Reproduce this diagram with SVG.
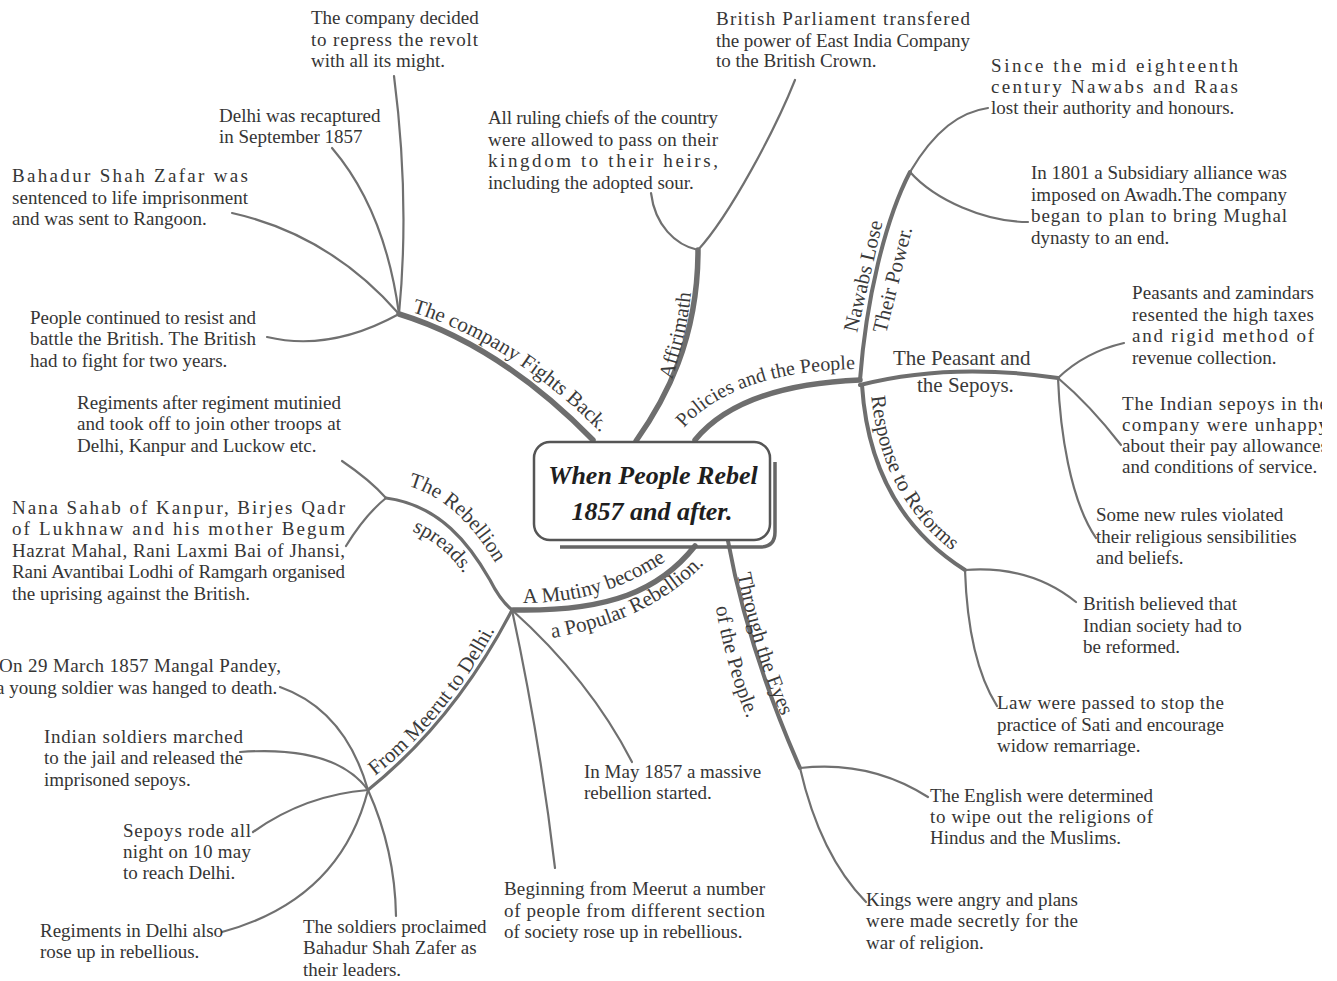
<svg xmlns="http://www.w3.org/2000/svg" width="1337" height="981" viewBox="0 0 1337 981">
<style>
.t{font-family:"Liberation Serif","Times New Roman",serif;font-size:19px;fill:#353535}
.lbl{font-family:"Liberation Serif","Times New Roman",serif;font-size:21px;fill:#3a3a3a}
.title{font-family:"Liberation Serif","Times New Roman",serif;font-size:26px;font-weight:bold;font-style:italic;fill:#1e1e1e}
.br{fill:none;stroke:#6e6e6e;stroke-linecap:round}
.b1{stroke-width:5.5}
.b2{stroke-width:4}
.b3{stroke-width:3.2}
.lf{fill:none;stroke:#707070;stroke-width:2.2;stroke-linecap:round}
</style>
<defs>
<clipPath id="clipR"><rect x="0" y="0" width="1322" height="981"/></clipPath>
<path id="pCompany" d="M404,310 Q506,338 600,432"/>
<path id="pAff" d="M672,380 C681,350 690,320 693,268"/>
<path id="pPol" d="M684,428 Q734,371 858,369"/>
<path id="pResp" d="M871,392 Q880,505 968,562"/>
<path id="pMut1" d="M523,603 C560,603 612,598 670,558"/>
<path id="pMut2" d="M552,638 C600,630 660,610 704,564"/>
<path id="pReb1" d="M408,486 C445,496 475,526 502,574"/>
<path id="pReb2" d="M412,531 C435,541 455,557 470,584"/>
<path id="pMeer" d="M375,776 Q452,716 502,616"/>
<path id="pEyes1" d="M737,572 Q754,660 793,742"/>
<path id="pEyes2" d="M715,603 Q728,680 756,738"/>
</defs>

<g id="connectors">
  <!-- main branches -->
  <path class="br b1" d="M399,314 Q500,345 593,440"/>
  <path class="br b1" d="M636,441 C665,400 698,340 698,250"/>
  <path class="br b1" d="M695,440 Q740,385 860,380"/>
  <path class="br b1" d="M695,546 C660,590 610,612 513,610"/>
  <path class="br b2" d="M728,541 Q748,650 800,768"/>
  <!-- secondary branches -->
  <path class="br b2" d="M860,380 C866,300 885,220 910,172"/>
  <path class="br b2" d="M860,385 Q950,362 1058,378"/>
  <path class="br b2" d="M862,385 Q870,510 965,570"/>
  <path class="br b3" d="M512,610 Q500,600 490,580 C470,545 440,505 386,498"/>
  <path class="br b3" d="M512,610 Q455,720 368,790"/>
  <!-- leaf connectors -->
  <path class="lf" d="M394,76 Q410,200 399,314"/>
  <path class="lf" d="M332,148 Q385,210 399,314"/>
  <path class="lf" d="M232,213 Q330,235 399,314"/>
  <path class="lf" d="M267,337 Q330,352 399,314"/>
  <path class="lf" d="M651,193 C655,225 675,245 698,250"/>
  <path class="lf" d="M698,250 C730,215 775,130 795,80"/>
  <path class="lf" d="M910,172 C935,130 960,112 988,108"/>
  <path class="lf" d="M910,172 C935,200 985,222 1028,222"/>
  <path class="lf" d="M1058,378 Q1085,352 1124,343"/>
  <path class="lf" d="M1058,378 Q1090,405 1121,445"/>
  <path class="lf" d="M1058,378 C1060,430 1070,500 1096,538"/>
  <path class="lf" d="M965,570 Q1030,565 1076,602"/>
  <path class="lf" d="M965,570 Q968,660 997,706"/>
  <path class="lf" d="M386,498 Q370,480 342,461"/>
  <path class="lf" d="M386,498 Q365,515 346,546"/>
  <path class="lf" d="M280,687 Q345,710 368,790"/>
  <path class="lf" d="M368,790 Q395,850 396,916"/>
  <path class="lf" d="M240,752 Q335,745 368,790"/>
  <path class="lf" d="M253,832 Q305,795 368,790"/>
  <path class="lf" d="M222,932 Q340,900 368,790"/>
  <path class="lf" d="M512,610 Q590,680 632,762"/>
  <path class="lf" d="M512,610 Q540,740 555,868"/>
  <path class="lf" d="M800,768 Q870,760 928,797"/>
  <path class="lf" d="M800,768 Q820,855 866,902"/>
</g>

<g id="branch-labels">
  <text class="lbl"><textPath href="#pCompany" startOffset="8">The company Fights Back.</textPath></text>
  <text class="lbl"><textPath href="#pAff">Affirimath</textPath></text>
  <text class="lbl" style="font-size:20px"><textPath href="#pPol">Policies and the People</textPath></text>
  <text class="lbl" transform="translate(857,333) rotate(-77)">Nawabs Lose</text>
  <text class="lbl" transform="translate(886,334) rotate(-76)">Their Power.</text>
  <text class="lbl" x="893" y="365">The Peasant and</text>
  <text class="lbl" x="917" y="392">the Sepoys.</text>
  <text class="lbl"><textPath href="#pResp" startOffset="4">Response to Reforms</textPath></text>
  <text class="lbl"><textPath href="#pMut1">A Mutiny become</textPath></text>
  <text class="lbl"><textPath href="#pMut2">a Popular Rebellion.</textPath></text>
  <text class="lbl"><textPath href="#pReb1">The Rebellion</textPath></text>
  <text class="lbl"><textPath href="#pReb2">spreads.</textPath></text>
  <text class="lbl"><textPath href="#pMeer">From Meerut to Delhi.</textPath></text>
  <text class="lbl"><textPath href="#pEyes1" startOffset="2">Through the Eyes</textPath></text>
  <text class="lbl"><textPath href="#pEyes2" startOffset="4">of the People.</textPath></text>
</g>

<g id="center">
  <path d="M560,547 L760,547 Q775,547 775,532 L775,462" fill="none" stroke="#666" stroke-width="3.5"/>
  <rect x="534" y="442" width="236" height="98" rx="16" fill="#fff" stroke="#555" stroke-width="2.5"/>
  <text class="title" x="653" y="484" text-anchor="middle">When People Rebel</text>
  <text class="title" x="652" y="520" text-anchor="middle">1857 and after.</text>
</g>

<g id="n-company-decided">
  <text class="t" x="311" y="24">The company decided</text>
  <text class="t" x="311" y="46" textLength="167" lengthAdjust="spacing">to repress the revolt</text>
  <text class="t" x="311" y="67">with all its might.</text>
</g>
<g id="n-delhi-recaptured">
  <text class="t" x="219" y="122">Delhi was recaptured</text>
  <text class="t" x="219" y="143">in September 1857</text>
</g>
<g id="n-bahadur">
  <text class="t" x="12" y="182" textLength="236" lengthAdjust="spacing">Bahadur Shah Zafar was</text>
  <text class="t" x="12" y="204" textLength="236" lengthAdjust="spacing">sentenced to life imprisonment</text>
  <text class="t" x="12" y="225">and was sent to Rangoon.</text>
</g>
<g id="n-people-continued">
  <text class="t" x="30" y="324" textLength="226" lengthAdjust="spacing">People continued to resist and</text>
  <text class="t" x="30" y="345" textLength="226" lengthAdjust="spacing">battle the British. The British</text>
  <text class="t" x="30" y="367">had to fight for two years.</text>
</g>
<g id="n-ruling-chiefs">
  <text class="t" x="488" y="124" textLength="230" lengthAdjust="spacing">All ruling chiefs of the country</text>
  <text class="t" x="488" y="146" textLength="230" lengthAdjust="spacing">were allowed to pass on their</text>
  <text class="t" x="488" y="167" textLength="230" lengthAdjust="spacing">kingdom to their heirs,</text>
  <text class="t" x="488" y="189">including the adopted sour.</text>
</g>
<g id="n-parliament">
  <text class="t" x="716" y="25" textLength="254" lengthAdjust="spacing">British Parliament transfered</text>
  <text class="t" x="716" y="47" textLength="254" lengthAdjust="spacing">the power of East India Company</text>
  <text class="t" x="716" y="67">to the British Crown.</text>
</g>
<g id="n-since-mid">
  <text class="t" x="991" y="72" textLength="247" lengthAdjust="spacing">Since the mid eighteenth</text>
  <text class="t" x="991" y="93" textLength="247" lengthAdjust="spacing">century Nawabs and Raas</text>
  <text class="t" x="991" y="114">lost their authority and honours.</text>
</g>
<g id="n-1801">
  <text class="t" x="1031" y="179" textLength="256" lengthAdjust="spacing">In 1801 a Subsidiary alliance was</text>
  <text class="t" x="1031" y="201" textLength="256" lengthAdjust="spacing">imposed on Awadh.The company</text>
  <text class="t" x="1031" y="222" textLength="256" lengthAdjust="spacing">began to plan to bring Mughal</text>
  <text class="t" x="1031" y="244">dynasty to an end.</text>
</g>
<g id="n-peasants">
  <text class="t" x="1132" y="299" textLength="182" lengthAdjust="spacing">Peasants and zamindars</text>
  <text class="t" x="1132" y="321" textLength="182" lengthAdjust="spacing">resented the high taxes</text>
  <text class="t" x="1132" y="342" textLength="182" lengthAdjust="spacing">and rigid method of</text>
  <text class="t" x="1132" y="364">revenue collection.</text>
</g>
<g id="n-sepoys-unhappy" clip-path="url(#clipR)">
  <text class="t" x="1122" y="410" textLength="206" lengthAdjust="spacing">The Indian sepoys in the</text>
  <text class="t" x="1122" y="431" textLength="206" lengthAdjust="spacing">company were unhappy</text>
  <text class="t" x="1122" y="452" textLength="206" lengthAdjust="spacing">about their pay allowances</text>
  <text class="t" x="1122" y="473">and conditions of service.</text>
</g>
<g id="n-new-rules">
  <text class="t" x="1096" y="521">Some new rules violated</text>
  <text class="t" x="1096" y="543">their religious sensibilities</text>
  <text class="t" x="1096" y="564">and beliefs.</text>
</g>
<g id="n-british-believed">
  <text class="t" x="1083" y="610">British believed that</text>
  <text class="t" x="1083" y="632">Indian society had to</text>
  <text class="t" x="1083" y="653">be reformed.</text>
</g>
<g id="n-law">
  <text class="t" x="997" y="709" textLength="227" lengthAdjust="spacing">Law were passed to stop the</text>
  <text class="t" x="997" y="731" textLength="227" lengthAdjust="spacing">practice of Sati and encourage</text>
  <text class="t" x="997" y="752">widow remarriage.</text>
</g>
<g id="n-english">
  <text class="t" x="930" y="802" textLength="223" lengthAdjust="spacing">The English were determined</text>
  <text class="t" x="930" y="823" textLength="223" lengthAdjust="spacing">to wipe out the religions of</text>
  <text class="t" x="930" y="844">Hindus and the Muslims.</text>
</g>
<g id="n-kings">
  <text class="t" x="866" y="906" textLength="212" lengthAdjust="spacing">Kings were angry and plans</text>
  <text class="t" x="866" y="927" textLength="212" lengthAdjust="spacing">were made secretly for the</text>
  <text class="t" x="866" y="949">war of religion.</text>
</g>
<g id="n-beginning">
  <text class="t" x="504" y="895" textLength="261" lengthAdjust="spacing">Beginning from Meerut a number</text>
  <text class="t" x="504" y="917" textLength="261" lengthAdjust="spacing">of people from different section</text>
  <text class="t" x="504" y="938">of society rose up in rebellious.</text>
</g>
<g id="n-may">
  <text class="t" x="584" y="778">In May 1857 a massive</text>
  <text class="t" x="584" y="799">rebellion started.</text>
</g>
<g id="n-proclaimed">
  <text class="t" x="303" y="933">The soldiers proclaimed</text>
  <text class="t" x="303" y="954">Bahadur Shah Zafer as</text>
  <text class="t" x="303" y="976">their leaders.</text>
</g>
<g id="n-regiments-delhi">
  <text class="t" x="40" y="937">Regiments in Delhi also</text>
  <text class="t" x="40" y="958">rose up in rebellious.</text>
</g>
<g id="n-sepoys-rode">
  <text class="t" x="123" y="837" textLength="128" lengthAdjust="spacing">Sepoys rode all</text>
  <text class="t" x="123" y="858" textLength="128" lengthAdjust="spacing">night on 10 may</text>
  <text class="t" x="123" y="879">to reach Delhi.</text>
</g>
<g id="n-indian-soldiers">
  <text class="t" x="44" y="743" textLength="199" lengthAdjust="spacing">Indian soldiers marched</text>
  <text class="t" x="44" y="764" textLength="199" lengthAdjust="spacing">to the jail and released the</text>
  <text class="t" x="44" y="786">imprisoned sepoys.</text>
</g>
<g id="n-mangal">
  <text class="t" x="-1" y="672" textLength="282" lengthAdjust="spacing">On 29 March 1857 Mangal Pandey,</text>
  <text class="t" x="-4" y="694">a young soldier was hanged to death.</text>
</g>
<g id="n-regiments-after">
  <text class="t" x="77" y="409" textLength="264" lengthAdjust="spacing">Regiments after regiment mutinied</text>
  <text class="t" x="77" y="430" textLength="264" lengthAdjust="spacing">and took off to join other troops at</text>
  <text class="t" x="77" y="452">Delhi, Kanpur and Luckow etc.</text>
</g>
<g id="n-nana">
  <text class="t" x="12" y="514" textLength="333" lengthAdjust="spacing">Nana Sahab of Kanpur, Birjes Qadr</text>
  <text class="t" x="12" y="535" textLength="333" lengthAdjust="spacing">of Lukhnaw and his mother Begum</text>
  <text class="t" x="12" y="557" textLength="333" lengthAdjust="spacing">Hazrat Mahal, Rani Laxmi Bai of Jhansi,</text>
  <text class="t" x="12" y="578" textLength="333" lengthAdjust="spacing">Rani Avantibai Lodhi of Ramgarh organised</text>
  <text class="t" x="12" y="600">the uprising against the British.</text>
</g>
</svg>
